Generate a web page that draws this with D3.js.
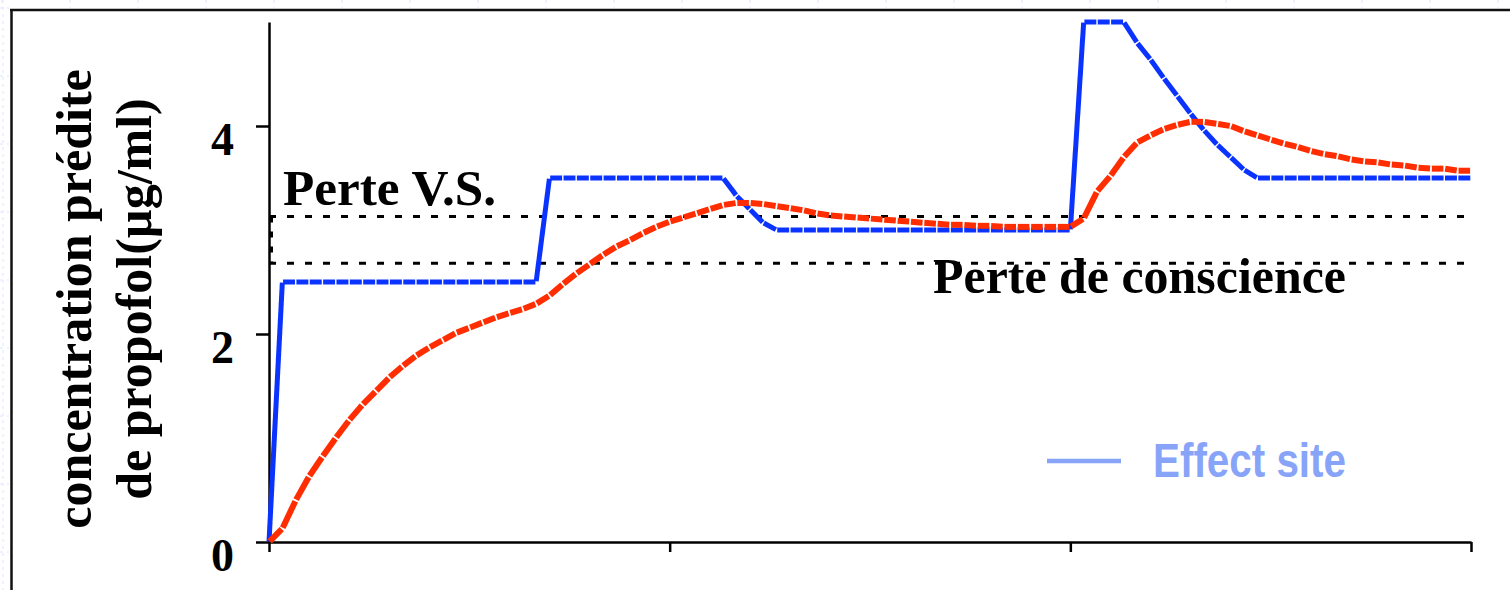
<!DOCTYPE html>
<html><head><meta charset="utf-8">
<script src="https://cdn.jsdelivr.net/npm/d3@7"></script>
<style>body{margin:0;background:#fff}svg{display:block}</style>
</head><body><svg id="c" width="1510" height="590"></svg>
<script>
const times = [0,2,4,6,8,10,12,14,16,18,20,22,24,26,28,30,32,34,36,38,40,42,44,46,48,50,52,54,56,58,60,62,64,66,68,70,72,74,76,78,80,82,84,86,88,90,92,94,96,98,100,102,104,106,108,110,112,114,116,118,120,122,124,126,128,130,132,134,136,138,140,142,144,146,148,150,152,154,156,158,160,162,164,166,168,170,172,174,176,178,180];
const blueValues = [0,
  2.5,2.5,2.5,2.5,2.5,2.5,2.5,2.5,2.5,2.5,2.5,2.5,2.5,2.5,2.5,2.5,2.5,2.5,2.5,2.5,
  3.5,3.5,3.5,3.5,3.5,3.5,3.5,3.5,3.5,3.5,3.5,3.5,3.5,3.5,
  3.33,3.2,3.07,
  3.0,3.0,3.0,3.0,3.0,3.0,3.0,3.0,3.0,3.0,3.0,3.0,3.0,3.0,3.0,3.0,3.0,3.0,3.0,3.0,3.0,3.0,3.0,
  5.0,5.0,5.0,5.0,
  4.80,4.64,4.46,4.29,4.12,3.96,3.82,3.70,3.58,
  3.5,3.5,3.5,3.5,3.5,3.5,3.5,3.5,3.5,3.5,3.5,3.5,3.5,3.5,3.5,3.5,3.5];
const redValues = [0,0.13,0.40,0.63,0.82,1.00,1.17,1.32,1.45,1.58,1.69,1.79,1.87,1.94,2.01,2.06,2.11,2.16,2.20,2.24,2.29,
  2.37,2.48,2.58,2.67,2.76,2.84,2.90,2.97,3.03,3.08,3.12,3.16,3.20,3.24,3.26,3.26,3.25,3.23,3.21,3.19,
  3.16,3.14,3.13,3.12,3.11,3.10,3.09,3.08,3.07,3.06,3.05,3.05,3.04,3.04,3.03,3.03,3.03,3.03,3.03,3.03,
  3.11,3.37,3.52,3.70,3.84,3.91,3.97,4.01,4.04,4.04,4.02,4.00,3.95,3.91,3.87,3.83,3.80,3.76,3.73,3.71,
  3.68,3.66,3.65,3.63,3.62,3.60,3.59,3.59,3.57,3.57];
const thresholds = [3.13, 2.68];
const yTicks = [0, 2, 4];
const xTicks = [0, 60, 120, 180];
const yTitleLines = ["concentration prédite", "de propofol(µg/ml)"];
const annotationTop = "Perte V.S.";
const annotationBottom = "Perte de conscience";
const legendLabel = "Effect site";

const svg = d3.select("#c");
const x = d3.scaleLinear().domain([0, 180]).range([269, 1471]);
const y = d3.scaleLinear().domain([0, 5]).range([542, 22]);

// faint slide grid in the margins
const bg = svg.append("g").attr("stroke", "#dfe6fb").attr("stroke-width", 1).attr("stroke-dasharray", "3,4");
d3.range(2, 1510, 68).forEach(gx => bg.append("line").attr("x1", gx).attr("x2", gx).attr("y1", 0).attr("y2", 8));
d3.range(8, 590, 68).forEach(gy => bg.append("line").attr("x1", 0).attr("x2", 9).attr("y1", gy).attr("y2", gy));
bg.append("line").attr("x1", 3).attr("x2", 3).attr("y1", 0).attr("y2", 590);

// frame
svg.append("line").attr("x1", 10).attr("x2", 1510).attr("y1", 10).attr("y2", 10).attr("stroke", "#111").attr("stroke-width", 2.5);
svg.append("line").attr("x1", 11.5).attr("x2", 11.5).attr("y1", 9).attr("y2", 590).attr("stroke", "#111").attr("stroke-width", 2.5);

// axes
const serif = "'Liberation Serif', 'Times New Roman', serif";
const yAxis = svg.append("g").attr("transform", "translate(269,0)")
  .call(d3.axisLeft(y).tickValues(yTicks).tickSize(13).tickSizeOuter(0).tickFormat(d3.format("d")));
yAxis.select(".domain").attr("stroke", "#000").attr("stroke-width", 2.5);
yAxis.selectAll(".tick line").attr("stroke", "#000").attr("stroke-width", 2.5);
yAxis.selectAll(".tick text").attr("x", -35).attr("y", 28).attr("dy", 0)
  .attr("font-family", serif).attr("font-weight", "bold")
  .attr("font-size", 46).attr("fill", "#000");

const xAxis = svg.append("g").attr("transform", "translate(0,542)")
  .call(d3.axisBottom(x).tickValues(xTicks).tickSize(10).tickSizeOuter(0).tickFormat(""));
xAxis.select(".domain").attr("stroke", "#000").attr("stroke-width", 2.5);
xAxis.selectAll(".tick line").attr("stroke", "#000").attr("stroke-width", 2.5);

// threshold dotted lines
thresholds.forEach(v => {
  svg.append("line").attr("x1", x(0)).attr("x2", x(180)).attr("y1", y(v)).attr("y2", y(v))
    .attr("stroke", "#000").attr("stroke-width", 3).attr("stroke-dasharray", "7,11");
});
svg.append("line").attr("x1", x(0) + 2.5).attr("x2", x(0) + 2.5).attr("y1", y(thresholds[0])).attr("y2", y(thresholds[1]))
  .attr("stroke", "#000").attr("stroke-width", 3).attr("stroke-dasharray", "6,9");

// series drawn as short segments with tiny white gaps at each sample
function drawSeries(vals, color, width, gap) {
  const pts = times.map((t, i) => [x(t), y(vals[i])]);
  const segs = d3.pairs(pts).map(([a, b]) => {
    const dx = b[0] - a[0], dy = b[1] - a[1], len = Math.hypot(dx, dy);
    const ux = dx / len, uy = dy / len;
    return [a[0] + ux * gap, a[1] + uy * gap, b[0] - ux * gap, b[1] - uy * gap];
  });
  svg.append("g").selectAll("line").data(segs).join("line")
    .attr("x1", d => d[0]).attr("y1", d => d[1]).attr("x2", d => d[2]).attr("y2", d => d[3])
    .attr("stroke", color).attr("stroke-width", width).attr("stroke-linecap", "butt");
}
drawSeries(blueValues, "#0b33ff", 5, 0.7);
drawSeries(redValues, "#ff2d00", 6, 0.9);

// annotations
svg.append("text").attr("x", 283).attr("y", 205).attr("font-family", serif).attr("font-weight", "bold")
  .attr("font-size", 50).attr("fill", "#000").attr("textLength", 213).attr("lengthAdjust", "spacingAndGlyphs").text(annotationTop);
svg.append("text").attr("x", 933).attr("y", 293).attr("font-family", serif).attr("font-weight", "bold")
  .attr("font-size", 50).attr("fill", "#000").attr("textLength", 413).attr("lengthAdjust", "spacingAndGlyphs").text(annotationBottom);

// y title
const yt = svg.append("g").attr("font-family", serif).attr("font-weight", "bold").attr("font-size", 50).attr("fill", "#000");
[[91, yTitleLines[0]], [151, yTitleLines[1]]].forEach(([bx, txt]) => {
  yt.append("text").attr("transform", `translate(${bx},299) rotate(-90)`).attr("text-anchor", "middle").text(txt);
});

// legend
svg.append("line").attr("x1", 1047).attr("x2", 1121).attr("y1", 461).attr("y2", 461)
  .attr("stroke", "#88a4f8").attr("stroke-width", 4.5);
svg.append("text").attr("x", 1153).attr("y", 477).attr("font-family", "'Liberation Sans', Arial, sans-serif")
  .attr("font-weight", "bold").attr("font-size", 48).attr("fill", "#88a4f8")
  .attr("textLength", 193).attr("lengthAdjust", "spacingAndGlyphs").text(legendLabel);
</script></body></html>
